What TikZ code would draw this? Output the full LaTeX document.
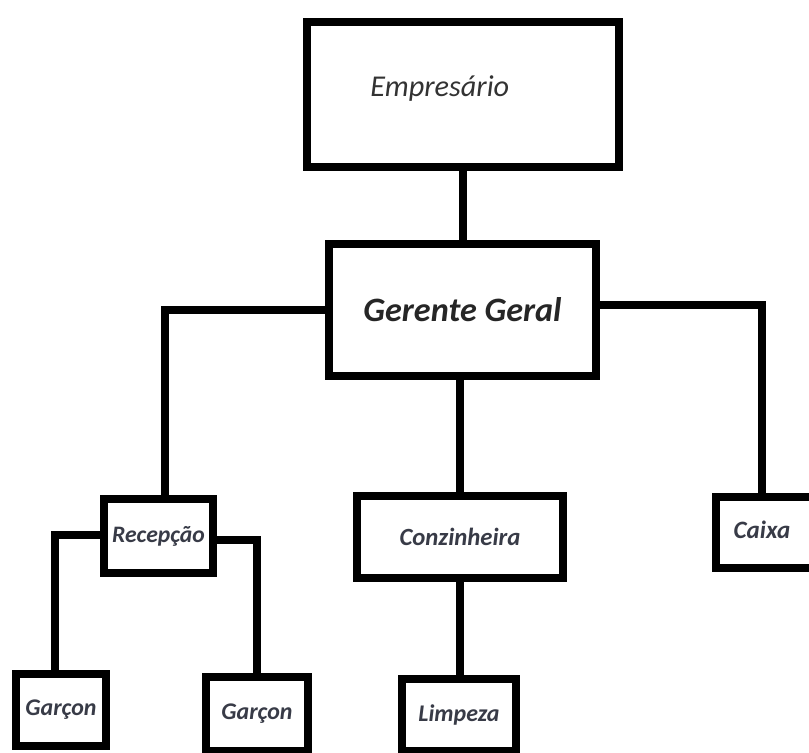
\documentclass[tikz,border=0pt]{standalone}
\usepackage{fontspec}
\setmainfont{Carlito}
\usetikzlibrary{calc}
\definecolor{inkgray}{rgb}{0.22,0.23,0.28}

\begin{document}
\begin{tikzpicture}[x=0.025cm,y=-0.025cm,
    box/.style={draw,line width=0.2cm,rectangle,inner sep=0pt,font=\fontsize{17}{20}\selectfont\bfseries\itshape,text=inkgray},
    link/.style={line width=0.2cm}]
            \clip (0,0) rectangle (809,753);
            \fill[white] (0,0) rectangle (809,753);

            % top of the chart
            \node[box,minimum width=7.8cm,minimum height=3.625cm,
                  label={[font=\fontsize{21.5}{24}\selectfont\itshape,text=black!80,xshift=-0.58cm,yshift=0.16cm]center:Empresário}]
                  (emp) at (463,94.5) {};
            \node[box,minimum width=6.675cm,minimum height=3.3cm,font=\fontsize{24.3}{28}\selectfont\bfseries\itshape,text=black!85]
                  (ger) at (462.5,310) {Gerente Geral};

            % middle row
            \node[box,minimum width=2.725cm,minimum height=1.85cm,font=\fontsize{16.8}{20}\selectfont\bfseries\itshape] (rec) at (158.5,536) {Recepção};
            \node[box,minimum width=5.15cm,minimum height=2.05cm,font=\fontsize{17.6}{20}\selectfont\bfseries\itshape] (coz) at (460,537) {Conzinheira};
            \node[box,minimum width=2.9cm,minimum height=1.775cm,
                  label={[font=\fontsize{17.8}{20}\selectfont\bfseries\itshape,text=inkgray,xshift=-0.3cm,yshift=0.06cm]center:Caixa}]
                  (cai) at (774,532.5) {};

            % bottom row
            \node[box,minimum width=2.25cm,minimum height=1.8cm] (gar1) at (61,710) {Garçon};
            \node[box,minimum width=2.55cm,minimum height=1.85cm] (gar2) at (257,714) {\raisebox{-0.08cm}{Garçon}};
            \node[box,minimum width=2.85cm,minimum height=1.8cm] (lim) at (459,715) {Limpeza};

            % links
            \draw[link] (emp.south -| ger.north) -- (ger.north);
            \draw[link] (coz.north |- ger.south) -- (coz.north);
            \draw[link] (coz.south) -- (lim.north -| coz.south);
            \draw[link] (ger.west) -| ([xshift=0.16cm]rec.north);
            \draw[link] ([yshift=0.125cm]ger.east) -| ([xshift=-0.3cm]cai.north);
            \draw[link] ([yshift=0.03cm]rec.west) -| ([xshift=-0.15cm]gar1.north);
            \draw[link] ([yshift=-0.1cm]rec.east) -| (gar2.north);
        \end{tikzpicture}
\end{document}
